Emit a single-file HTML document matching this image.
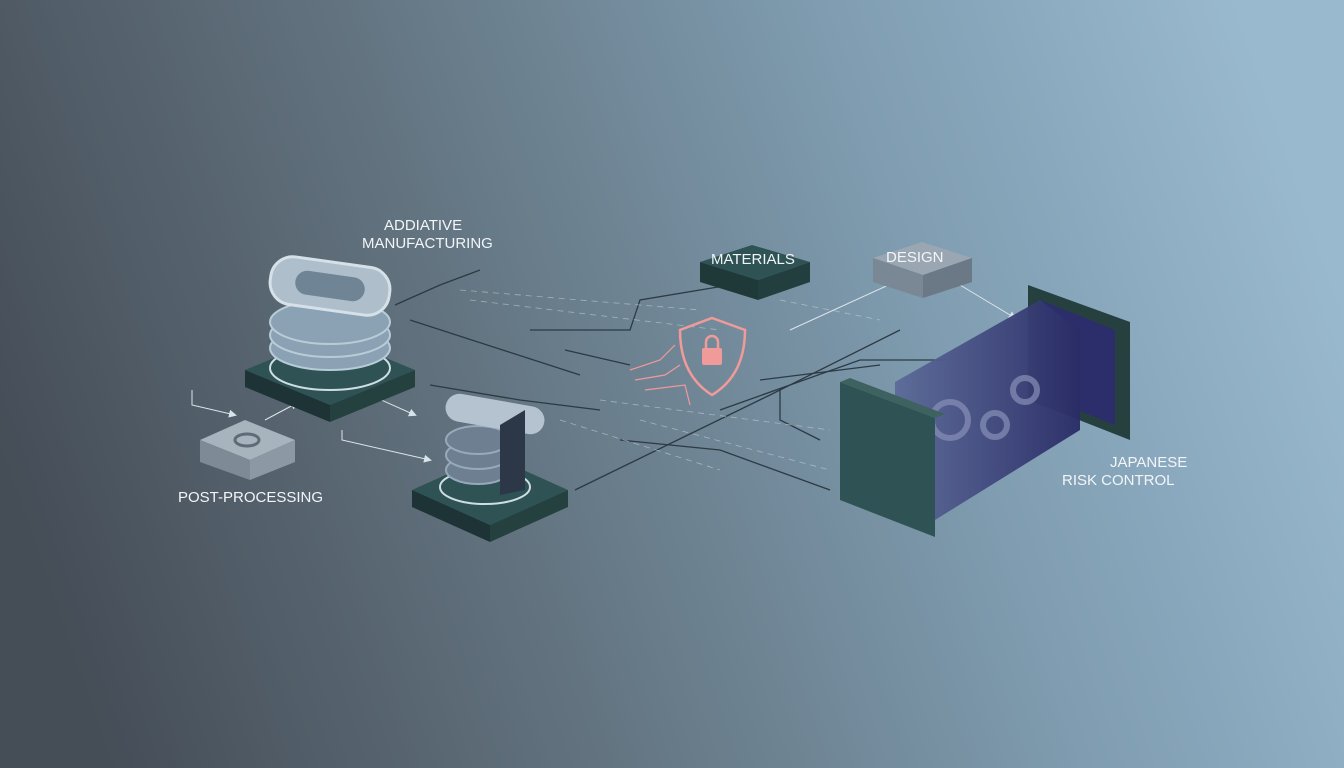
<!DOCTYPE html>
<html><head><meta charset="utf-8"><style>
html,body{margin:0;padding:0;width:1344px;height:768px;overflow:hidden}
svg{display:block}
text{font-family:"Liberation Sans",sans-serif;fill:#f2f5f8;font-size:15px}
</style></head><body>
<svg width="1344" height="768" viewBox="0 0 1344 768" xmlns="http://www.w3.org/2000/svg">
<defs>
<linearGradient id="bg" x1="0" y1="0.6" x2="1" y2="0.4">
<stop offset="0" stop-color="#454d57"/><stop offset="0.35" stop-color="#62737f"/>
<stop offset="0.7" stop-color="#7f9cb0"/><stop offset="1" stop-color="#99b9cf"/></linearGradient>
<linearGradient id="cyl" x1="0" y1="0" x2="1" y2="0">
<stop offset="0" stop-color="#5c6a98"/><stop offset="1" stop-color="#2a2c66"/></linearGradient>
<marker id="ah" markerWidth="8" markerHeight="8" refX="6" refY="4" orient="auto"><path d="M0,0 L8,4 L0,8z" fill="#d8e2ea"/></marker>
</defs>
<rect width="1344" height="768" fill="url(#bg)"/>
<g stroke="#2c3a44" stroke-width="1.3" fill="none">
<polyline points="395,305 440,285 480,270"/>
<polyline points="410,320 580,375"/>
<polyline points="530,330 630,330 640,300 730,285"/>
<polyline points="565,350 630,365"/>
<polyline points="575,490 770,395 900,330"/>
<polyline points="720,410 860,360 945,360"/>
<polyline points="760,380 880,365"/>
<polyline points="780,390 780,420 820,440"/>
<polyline points="620,440 720,450 830,490"/>
<polyline points="430,385 520,400 600,410"/>
</g>
<g stroke="#dde5ec" stroke-width="1" fill="none" marker-end="url(#ah)">
<polyline points="192,390 192,405 235,415"/>
<polyline points="265,420 297,403"/>
<polyline points="370,395 415,415"/>
<polyline points="342,430 342,440 430,460"/>
<polyline points="960,285 1015,318"/>
<polyline points="790,330 895,282"/>
</g>
<g stroke="#c9d4dc" stroke-width="0.8" stroke-dasharray="6 5" opacity="0.6">
<line x1="460" y1="290" x2="700" y2="310"/><line x1="470" y1="300" x2="720" y2="330"/>
<line x1="600" y1="400" x2="830" y2="430"/><line x1="640" y1="420" x2="830" y2="470"/>
<line x1="780" y1="300" x2="880" y2="320"/><line x1="560" y1="420" x2="720" y2="470"/>
</g>
<polygon points="245,370 330,335 415,370 330,405" fill="#2f5354"/>
<polygon points="245,370 330,405 330,422 245,387" fill="#1d3335"/>
<polygon points="415,370 330,405 330,422 415,387" fill="#24403f"/>
<ellipse cx="330" cy="368" rx="60" ry="22" fill="none" stroke="#cfdde5" stroke-width="2"/>
<g fill="#8aa2b4" stroke="#b8ccd8" stroke-width="2">
<ellipse cx="330" cy="348" rx="60" ry="22"/><ellipse cx="330" cy="335" rx="60" ry="22"/>
<ellipse cx="330" cy="322" rx="60" ry="22"/></g>
<rect x="270" y="262" width="120" height="48" rx="22" fill="#aebecb" stroke="#d6e0e8" stroke-width="3" transform="rotate(8 330 286)"/>
<rect x="295" y="274" width="70" height="24" rx="12" fill="#6f8595" transform="rotate(8 330 286)"/>
<polygon points="200,440 245,420 295,440 250,460" fill="#a7b3bd"/>
<polygon points="200,440 250,460 250,480 200,462" fill="#7e8a95"/>
<polygon points="295,440 250,460 250,480 295,462" fill="#8c99a4"/>
<ellipse cx="247" cy="440" rx="12" ry="6" fill="none" stroke="#5f6c77" stroke-width="3"/>
<polygon points="412,490 490,455 568,490 490,525" fill="#2f5354"/>
<polygon points="412,490 490,525 490,542 412,507" fill="#1d3335"/>
<polygon points="568,490 490,525 490,542 568,507" fill="#24403f"/>
<ellipse cx="485" cy="487" rx="45" ry="17" fill="none" stroke="#cfdde5" stroke-width="2"/>
<g fill="#6f7f92" stroke="#97aabb" stroke-width="2"><ellipse cx="478" cy="470" rx="32" ry="14"/><ellipse cx="478" cy="455" rx="32" ry="14"/><ellipse cx="478" cy="440" rx="32" ry="14"/></g>
<rect x="445" y="400" width="100" height="28" rx="14" fill="#b4c3cf" transform="rotate(10 495 414)"/>
<polygon points="500,425 525,410 525,490 500,495" fill="#2c3848"/>
<polygon points="700,262 752,245 810,262 758,280" fill="#2f5354"/>
<polygon points="700,262 758,280 758,300 700,282" fill="#1f3838"/>
<polygon points="810,262 758,280 758,300 810,282" fill="#233e3e"/>
<polygon points="873,258 922,242 972,258 923,275" fill="#9aa7b3"/>
<polygon points="873,258 923,275 923,298 873,282" fill="#7a8794"/>
<polygon points="972,258 923,275 923,298 972,282" fill="#6b7885"/>
<path d="M712,318 L745,330 Q745,375 712,395 Q680,375 680,330 Z" fill="none" stroke="#f09a9a" stroke-width="2.5"/>
<rect x="702" y="348" width="20" height="17" rx="2" fill="#f09a9a"/>
<path d="M706,348 v-6 a6,6 0 0 1 12,0 v6" fill="none" stroke="#f09a9a" stroke-width="2.5"/>
<g stroke="#f09a9a" stroke-width="1.2" fill="none"><polyline points="630,370 660,360 675,345"/><polyline points="635,380 665,375 680,365"/><polyline points="645,390 685,385 690,405"/></g>
<polygon points="1028,285 1130,322 1130,440 1028,400" fill="#25403f"/>
<polygon points="1040,300 1115,330 1115,425 1040,395" fill="#2b2e6a"/>
<polygon points="895,382 1040,300 1080,330 1080,430 935,520 895,470" fill="url(#cyl)" opacity="0.95"/>
<g fill="none" stroke="#8890b8" stroke-width="6" opacity="0.7"><circle cx="950" cy="420" r="18"/><circle cx="995" cy="425" r="12"/><circle cx="1025" cy="390" r="12"/></g>
<polygon points="840,382 935,418 935,537 840,500" fill="#2f5354"/>
<polygon points="840,382 850,378 945,414 935,418" fill="#3d6260"/>
<text x="384" y="230">ADDIATIVE</text>
<text x="362" y="248">MANUFACTURING</text>
<text x="711" y="264" font-size="14">MATERIALS</text>
<text x="886" y="262" font-size="14">DESIGN</text>
<text x="178" y="502">POST-PROCESSING</text>
<text x="1110" y="467">JAPANESE</text>
<text x="1062" y="485">RISK CONTROL</text>
</svg>
</body></html>
